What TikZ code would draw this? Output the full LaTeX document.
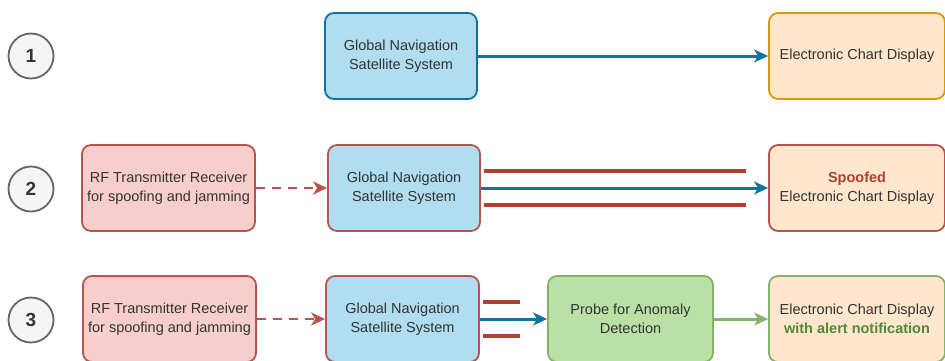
\documentclass[tikz,border=0pt]{standalone}
\usepackage{fontspec}
\setmainfont{Liberation Sans}
\usetikzlibrary{arrows.meta}
\definecolor{txt}{HTML}{333333}
\definecolor{bluefill}{HTML}{B1DDF0}
\definecolor{bluedraw}{HTML}{10739E}
\definecolor{redfill}{HTML}{F8CECC}
\definecolor{reddraw}{HTML}{B85450}
\definecolor{darkred}{HTML}{AE4132}
\definecolor{orangefill}{HTML}{FFE6CC}
\definecolor{orangedraw}{HTML}{D79B00}
\definecolor{greenfill}{HTML}{B9E0A5}
\definecolor{greendraw}{HTML}{82B366}
\definecolor{greentext}{HTML}{4F8A3B}
\definecolor{circfill}{HTML}{F5F5F5}
\definecolor{circdraw}{HTML}{666666}
\tikzset{
  box/.style={rounded corners=9pt, line width=1.8pt, align=center, text=txt,
    font=\fontsize{14.5}{18.5}\selectfont, inner sep=0pt},
  num/.style={circle, draw=circdraw, fill=circfill, line width=1.8pt, minimum size=45pt,
    inner sep=0pt, text=txt, font=\fontsize{19}{22}\selectfont\bfseries},
  tip/.style={-{Stealth[length=14pt,width=13pt,inset=4pt]}},
  blueline/.style={draw=bluedraw, line width=3pt, tip},
  redline/.style={draw=darkred, line width=3.5pt},
  dashline/.style={draw=reddraw, line width=2.8pt, dash pattern=on 9pt off 7pt, tip},
  greenline/.style={draw=greendraw, line width=3pt, tip},
}
\begin{document}
\begin{tikzpicture}[x=1pt,y=-1pt]
\useasboundingbox (0,0) rectangle (945,360);
% row 1
\node[num] (n1) at (31,56) {1};
\node[box, draw=bluedraw, fill=bluefill, minimum width=152pt, minimum height=86pt] (g1) at (401,56) {Global Navigation\\Satellite System};
\node[box, draw=orangedraw, fill=orangefill, minimum width=176pt, minimum height=86pt] (e1) at (857,56) {Electronic Chart Display};
\draw[blueline] (g1.east) -- (e1.west);
% row 2
\node[num] (n2) at (31,189) {2};
\node[box, draw=reddraw, fill=redfill, minimum width=173pt, minimum height=86pt] (r2) at (168.5,188) {RF Transmitter Receiver\\for spoofing and jamming};
\node[box, draw=reddraw, fill=bluefill, minimum width=152pt, minimum height=86pt] (g2) at (404,188) {Global Navigation\\Satellite System};
\node[box, draw=reddraw, fill=orangefill, minimum width=176pt, minimum height=86pt] (e2) at (857,188) {\textcolor{darkred}{\bfseries Spoofed}\\Electronic Chart Display};
\draw[dashline] (r2.east) -- (g2.west);
\coordinate (s2a) at (746,171);
\coordinate (s2b) at (746,205);
\draw[redline] (g2.east |- s2a) ++(3,0) -- (s2a);
\draw[redline] (g2.east |- s2b) ++(3,0) -- (s2b);
\draw[blueline] (g2.east) -- (e2.west);
% row 3
\node[num] (n3) at (31,320) {3};
\node[box, draw=reddraw, fill=redfill, minimum width=173pt, minimum height=86pt] (r3) at (169.5,319) {RF Transmitter Receiver\\for spoofing and jamming};
\node[box, draw=reddraw, fill=bluefill, minimum width=153pt, minimum height=86pt] (g3) at (402.5,319) {Global Navigation\\Satellite System};
\node[box, draw=greendraw, fill=greenfill, minimum width=165pt, minimum height=86pt] (p3) at (630.5,319) {Probe for Anomaly\\Detection};
\node[box, draw=greendraw, fill=orangefill, minimum width=176pt, minimum height=86pt] (e3) at (857,319) {Electronic Chart Display\\\textcolor{greentext}{\bfseries with alert notification}};
\draw[dashline] (r3.east) -- (g3.west);
\coordinate (s3a) at (520,302);
\coordinate (s3b) at (520,336);
\draw[redline] (g3.east |- s3a) ++(3,0) -- (s3a);
\draw[redline] (g3.east |- s3b) ++(3,0) -- (s3b);
\draw[blueline] (g3.east) -- (p3.west);
\draw[greenline] (p3.east) -- (e3.west);
\end{tikzpicture}
\end{document}
